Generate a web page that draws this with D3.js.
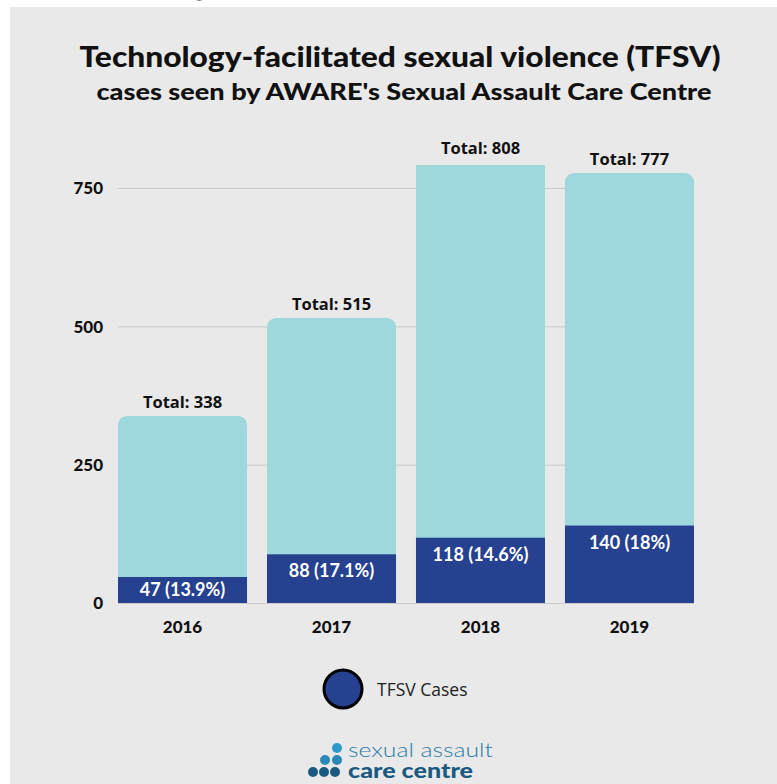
<!DOCTYPE html>
<html>
<head>
  <meta charset="utf-8">
  <script src="https://cdnjs.cloudflare.com/ajax/libs/d3/7.8.5/d3.min.js"></script>
  <style>
    body { margin: 0; background: #fff; }
    svg { display: block; }
  </style>
</head>
<body>
<div id="chart"></div>
<script>
  // data
  var years = ["2016", "2017", "2018", "2019"];
  var totals = [338, 515, 808, 777];
  var tfsv = [47, 88, 118, 140];
  var tfsvLabels = ["47 (13.9%)", "88 (17.1%)", "118 (14.6%)", "140 (18%)"];
  var yTicks = [0, 250, 500, 750];

  var width = 777, height = 784;
  var plotLeft = 118, plotRight = 694, plotTop = 165, plotBottom = 603;

  var svg = d3.select("#chart").append("svg")
    .attr("width", width).attr("height", height);

  // cut off heading from the page above
  svg.append("text")
    .attr("x", 0).attr("y", -7)
    .attr("textLength", 777).attr("lengthAdjust", "spacingAndGlyphs")
    .attr("font-family", "Lato").attr("font-weight", 900).attr("font-size", 44)
    .text("by Technology-facilitated sexual violence by year");

  // grey panel
  svg.append("rect")
    .attr("x", 10).attr("y", 7).attr("width", width - 10).attr("height", height - 7)
    .attr("fill", "#e9e9e9");

  // titles
  svg.append("text")
    .attr("x", 400).attr("y", 67).attr("text-anchor", "middle")
    .attr("textLength", 641).attr("lengthAdjust", "spacingAndGlyphs")
    .attr("font-family", "Lato").attr("font-weight", 900).attr("font-size", 29)
    .attr("fill", "#111")
    .text("Technology-facilitated sexual violence (TFSV)");
  svg.append("text")
    .attr("x", 404).attr("y", 100).attr("text-anchor", "middle")
    .attr("textLength", 615).attr("lengthAdjust", "spacingAndGlyphs")
    .attr("font-family", "Lato").attr("font-weight", 900).attr("font-size", 22)
    .attr("fill", "#111")
    .text("cases seen by AWARE's Sexual Assault Care Centre");

  var x = d3.scaleBand().domain(years).range([plotLeft, plotRight])
    .paddingInner(0.134).paddingOuter(0);
  var y = d3.scaleLinear().domain([0, 750]).range([plotBottom, 188]);

  // grid + y axis
  var yAxis = svg.append("g")
    .attr("transform", "translate(" + plotLeft + ",0)")
    .call(d3.axisLeft(y).tickValues(yTicks).tickSize(-(plotRight - plotLeft)).tickPadding(15));
  yAxis.select(".domain").remove();
  yAxis.selectAll("line").attr("stroke", "#c9c9c9").attr("stroke-width", 1);
  yAxis.selectAll("text")
    .attr("font-family", "Lato").attr("font-weight", 900).attr("font-size", 17)
    .attr("fill", "#111").attr("dy", "0.35em");

  svg.append("clipPath").attr("id", "plotclip")
    .append("rect")
    .attr("x", 0).attr("y", plotTop).attr("width", width).attr("height", plotBottom - plotTop);

  var bars = svg.append("g").attr("clip-path", "url(#plotclip)");

  // totals (light bars, rounded tops)
  bars.selectAll(".total").data(years).enter().append("rect")
    .attr("x", function(d) { return x(d); })
    .attr("y", function(d, i) { return y(totals[i]); })
    .attr("width", x.bandwidth())
    .attr("height", function(d, i) { return y(0) - y(totals[i]); })
    .attr("rx", 9)
    .attr("fill", "#9fd8dc");

  // TFSV cases (dark bars)
  bars.selectAll(".tfsv").data(years).enter().append("rect")
    .attr("x", function(d) { return x(d); })
    .attr("y", function(d, i) { return y(tfsv[i]); })
    .attr("width", x.bandwidth())
    .attr("height", function(d, i) { return y(0) - y(tfsv[i]); })
    .attr("fill", "#26418f");

  // total labels
  svg.selectAll(".tlabel").data(years).enter().append("text")
    .attr("x", function(d) { return x(d) + x.bandwidth() / 2; })
    .attr("y", function(d, i) { return Math.max(y(totals[i]), plotTop - 3) - 8; })
    .attr("text-anchor", "middle")
    .attr("font-family", "Open Sans").attr("font-weight", 700).attr("font-size", 16.5)
    .attr("fill", "#111")
    .text(function(d, i) { return "Total: " + totals[i]; });

  // TFSV labels
  svg.selectAll(".clabel").data(years).enter().append("text")
    .attr("x", function(d) { return x(d) + x.bandwidth() / 2; })
    .attr("y", function(d, i) { return Math.min(y(tfsv[i]) + 23, y(0) - 7); })
    .attr("text-anchor", "middle")
    .attr("font-family", "Lato").attr("font-weight", 700).attr("font-size", 18)
    .attr("fill", "#fff")
    .text(function(d, i) { return tfsvLabels[i]; });

  // x axis labels
  svg.selectAll(".year").data(years).enter().append("text")
    .attr("x", function(d) { return x(d) + x.bandwidth() / 2; })
    .attr("y", 633)
    .attr("text-anchor", "middle")
    .attr("font-family", "Lato").attr("font-weight", 900).attr("font-size", 17)
    .attr("fill", "#111")
    .text(function(d) { return d; });

  // legend
  svg.append("circle")
    .attr("cx", 343).attr("cy", 689).attr("r", 19)
    .attr("fill", "#26418f").attr("stroke", "#000").attr("stroke-width", 3);
  svg.append("text")
    .attr("x", 377).attr("y", 696)
    .attr("font-family", "Open Sans").attr("font-size", 17.5)
    .attr("fill", "#222")
    .text("TFSV Cases");

  // logo
  var dots = [
    {cx: 313, cy: 772, c: "#1b5a80"}, {cx: 324, cy: 772, c: "#1b5a80"},
    {cx: 335, cy: 772, c: "#1b5a80"},
    {cx: 325, cy: 760, c: "#2a8ab5"}, {cx: 337, cy: 760, c: "#2a8ab5"},
    {cx: 337, cy: 748, c: "#2e9bcb"}
  ];
  svg.selectAll(".dot").data(dots).enter().append("circle")
    .attr("cx", function(d) { return d.cx; })
    .attr("cy", function(d) { return d.cy; })
    .attr("r", 5)
    .attr("fill", function(d) { return d.c; });
  svg.append("text")
    .attr("x", 348).attr("y", 757)
    .attr("textLength", 145).attr("lengthAdjust", "spacingAndGlyphs")
    .attr("font-family", "Lato").attr("font-weight", 300).attr("font-size", 20)
    .attr("fill", "#2a7ba6")
    .text("sexual assault");
  svg.append("text")
    .attr("x", 348).attr("y", 778)
    .attr("textLength", 125).attr("lengthAdjust", "spacingAndGlyphs")
    .attr("font-family", "Lato").attr("font-weight", 900).attr("font-size", 21)
    .attr("fill", "#1b5a80")
    .text("care centre");
</script>
</body>
</html>
